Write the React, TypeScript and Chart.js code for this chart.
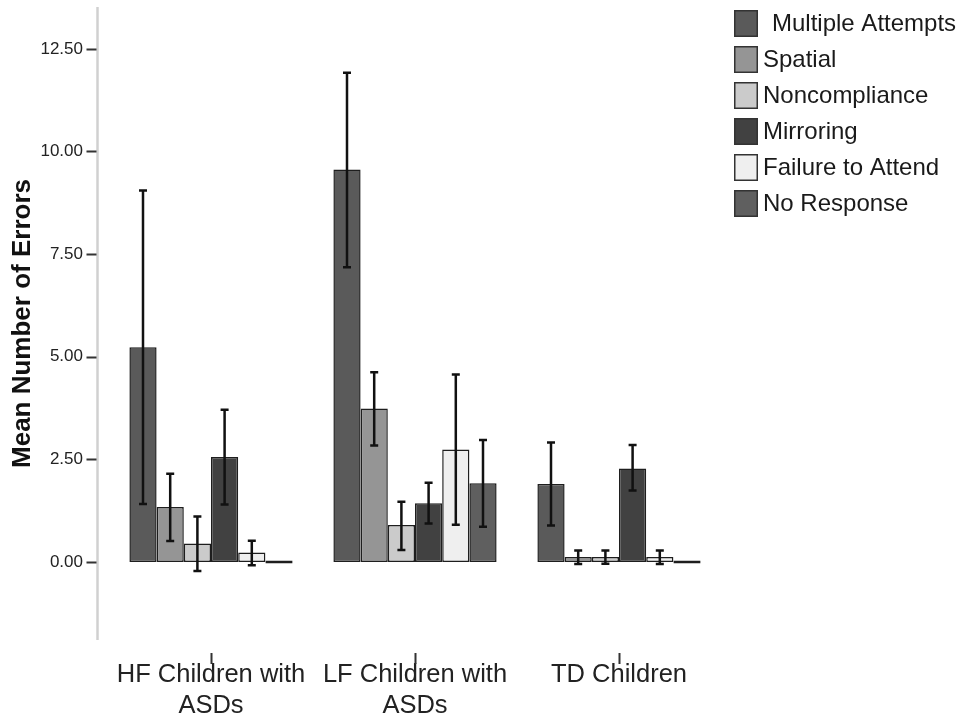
import React, { useEffect, useRef } from 'react';
import { Chart, registerables } from 'chart.js';

Chart.register(...registerables);

const categories: (string | string[])[] = [
  ['HF Children with', 'ASDs'],
  ['LF Children with', 'ASDs'],
  'TD Children',
];

const seriesLabels = [
  'Multiple Attempts',
  'Spatial',
  'Noncompliance',
  'Mirroring',
  'Failure to Attend',
  'No Response',
];

const multipleAttempts = [5.23, 9.56, 1.9];
const multipleAttemptsLow = [1.41, 7.18, 0.89];
const multipleAttemptsHigh = [9.05, 11.92, 2.91];

const spatial = [1.34, 3.74, 0.12];
const spatialLow = [0.51, 2.84, -0.05];
const spatialHigh = [2.15, 4.62, 0.28];

const noncompliance = [0.45, 0.9, 0.12];
const noncomplianceLow = [-0.22, 0.29, -0.04];
const noncomplianceHigh = [1.11, 1.47, 0.28];

const mirroring = [2.56, 1.43, 2.28];
const mirroringLow = [1.4, 0.94, 1.74];
const mirroringHigh = [3.71, 1.93, 2.85];

const failureToAttend = [0.23, 2.74, 0.12];
const failureToAttendLow = [-0.08, 0.91, -0.05];
const failureToAttendHigh = [0.52, 4.57, 0.28];

const noResponse = [0, 1.92, 0];
const noResponseLow = [null, 0.86, null];
const noResponseHigh = [null, 2.97, null];

const yTickValues = [0, 2.5, 5, 7.5, 10, 12.5];
const yMin = -1.9;
const yMax = 13.52;

const FONT = '"Liberation Sans", Arial, Helvetica, sans-serif';
const colors = ['#5a5a5a', '#959595', '#cbcbcb', '#414141', '#efefef', '#5f5f5f'];
const BORDER = '#1e1e1e';

const errorBarsPlugin = {
  id: 'errorBars',
  afterDatasetsDraw(chart: any) {
    const ctx = chart.ctx;
    const y = chart.scales.y;
    chart.data.datasets.forEach((ds: any, i: number) => {
      const meta = chart.getDatasetMeta(i);
      meta.data.forEach((bar: any, j: number) => {
        const lo = ds.errLow[j];
        const hi = ds.errHigh[j];
        if (lo == null || hi == null) return;
        const x = bar.x;
        const yh = y.getPixelForValue(hi);
        const yl = y.getPixelForValue(lo);
        ctx.save();
        ctx.strokeStyle = '#111';
        ctx.lineWidth = 2.5;
        ctx.beginPath();
        ctx.moveTo(x, yh);
        ctx.lineTo(x, yl);
        ctx.moveTo(x - 4, yh);
        ctx.lineTo(x + 4, yh);
        ctx.moveTo(x - 4, yl);
        ctx.lineTo(x + 4, yl);
        ctx.stroke();
        ctx.restore();
      });
    });
  },
};

const axesPlugin = {
  id: 'customAxes',
  afterDraw(chart: any) {
    const ctx = chart.ctx;
    const { top, bottom, left } = chart.chartArea;
    const y = chart.scales.y;
    const x = chart.scales.x;
    const ax = left - 11.5;
    ctx.save();
    ctx.strokeStyle = '#d0d0d0';
    ctx.lineWidth = 2.5;
    ctx.beginPath();
    ctx.moveTo(ax, top);
    ctx.lineTo(ax, bottom);
    ctx.stroke();
    ctx.strokeStyle = '#333';
    ctx.lineWidth = 2;
    ctx.beginPath();
    yTickValues.forEach((v) => {
      const py = Math.round(y.getPixelForValue(v)) + 0.5;
      ctx.moveTo(ax - 11, py);
      ctx.lineTo(ax - 1, py);
    });
    categories.forEach((_, i) => {
      const px = Math.round(x.getPixelForValue(i)) + 0.5;
      ctx.moveTo(px, bottom + 13);
      ctx.lineTo(px, bottom + 24);
    });
    ctx.stroke();
    ctx.restore();
  },
};

const legendPlugin = {
  id: 'customLegend',
  afterDraw(chart: any) {
    const ctx = chart.ctx;
    const bx = chart.chartArea.right + 13;
    ctx.save();
    chart.data.datasets.forEach((ds: any, i: number) => {
      const by = 10 + 36 * i;
      ctx.fillStyle = ds.backgroundColor;
      ctx.fillRect(bx, by, 24, 27);
      ctx.strokeStyle = '#333';
      ctx.lineWidth = 1.5;
      ctx.strokeRect(bx + 0.75, by + 0.75, 22.5, 25.5);
      ctx.fillStyle = '#1a1a1a';
      ctx.font = `24px ${FONT}`;
      ctx.textBaseline = 'middle';
      ctx.textAlign = 'left';
      const indent = i === 0 ? 9 : 0;
      ctx.fillText(ds.label, bx + 29 + indent, by + 14);
    });
    ctx.restore();
  },
};

export default function App() {
  const canvasRef = useRef<HTMLCanvasElement | null>(null);

  useEffect(() => {
    if (!canvasRef.current) return;
    const values = [multipleAttempts, spatial, noncompliance, mirroring, failureToAttend, noResponse];
    const lows = [multipleAttemptsLow, spatialLow, noncomplianceLow, mirroringLow, failureToAttendLow, noResponseLow];
    const highs = [multipleAttemptsHigh, spatialHigh, noncomplianceHigh, mirroringHigh, failureToAttendHigh, noResponseHigh];
    const datasets: any[] = seriesLabels.map((label, i) => ({
      label,
      data: values[i],
      errLow: lows[i],
      errHigh: highs[i],
      backgroundColor: colors[i],
      borderColor: BORDER,
      borderWidth: 1.5,
      borderSkipped: false,
      categoryPercentage: 0.8,
      barPercentage: 1.0,
      minBarLength: i === 5 ? 3 : 0,
    }));

    const chart = new Chart(canvasRef.current, {
      type: 'bar',
      data: { labels: categories as any, datasets },
      options: {
        animation: false,
        responsive: false,
        layout: { padding: { top: 7, right: 245, left: 0, bottom: 0 } },
        plugins: {
          legend: { display: false },
          tooltip: { enabled: false },
        },
        scales: {
          x: {
            grid: { display: false, drawTicks: false },
            border: { display: false },
            ticks: {
              color: '#222',
              font: { family: FONT, size: 25.5, lineHeight: 1.22 },
              padding: 19,
              maxRotation: 0,
              autoSkip: false,
            },
            afterFit(scale: any) {
              scale.height = 81;
              scale.paddingLeft = 0;
              scale.paddingRight = 0;
            },
          },
          y: {
            min: yMin,
            max: yMax,
            grid: { display: false, drawTicks: false },
            border: { display: false },
            afterBuildTicks(scale: any) {
              scale.ticks = yTickValues.map((v) => ({ value: v }));
            },
            ticks: {
              color: '#222',
              font: { family: FONT, size: 17 },
              padding: 26,
              callback: (v: any) => Number(v).toFixed(2),
            },
            title: {
              display: true,
              text: 'Mean Number of Errors',
              color: '#111',
              font: { family: FONT, size: 26, weight: 'bold', lineHeight: 1.2 },
              padding: { top: 7, bottom: 0 },
            },
            afterFit(scale: any) {
              scale.width = 109;
              scale.paddingTop = 0;
              scale.paddingBottom = 0;
            },
          },
        },
      },
      plugins: [errorBarsPlugin, axesPlugin, legendPlugin],
    });
    return () => chart.destroy();
  }, []);

  return (
    <canvas
      ref={canvasRef}
      width={966}
      height={721}
      style={{ position: 'absolute', left: 0, top: 0, width: 966, height: 721, background: '#fff' }}
    />
  );
}
